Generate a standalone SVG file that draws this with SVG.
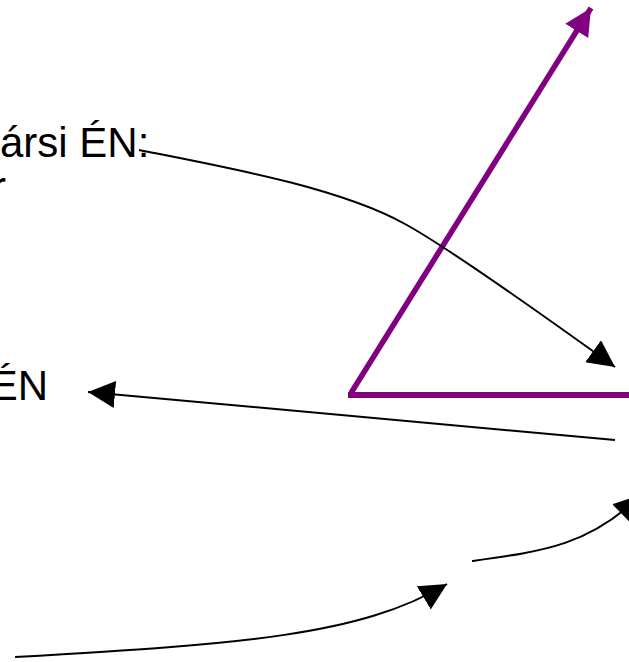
<svg xmlns="http://www.w3.org/2000/svg" width="629" height="662" viewBox="0 0 629 662">
  <style>
    .lbl { font-family: "Liberation Sans", Arial, sans-serif; font-size: 42px; fill: #000; }
    .conn { fill: none; stroke: #000; stroke-width: 2; }
    .purple { fill: none; stroke: #800080; stroke-width: 5.5; }
  </style>
  <defs>
    <marker id="ah" markerUnits="userSpaceOnUse" markerWidth="30" markerHeight="30" refX="27" refY="13.5" orient="auto" viewBox="0 0 30 30">
      <path d="M0,0 L27,13.5 L0,27 z" fill="#000"/>
    </marker>
    <marker id="ahp" markerUnits="userSpaceOnUse" markerWidth="30" markerHeight="30" refX="27" refY="13.5" orient="auto" viewBox="0 0 30 30">
      <path d="M0,0 L27,13.5 L0,27 z" fill="#800080"/>
    </marker>
  </defs>
  <rect width="629" height="662" fill="#fff"/>
  <g id="label-top">
    <text class="lbl" x="0" y="157">ársi ÉN:</text>
    <text class="lbl" x="-8" y="201">r</text>
  </g>
  <g id="label-mid">
    <text class="lbl" x="48" y="400" text-anchor="end">ÉN</text>
  </g>
  <g id="angle">
    <line class="purple" x1="351" y1="393" x2="591" y2="8" marker-end="url(#ahp)"/>
    <line class="purple" x1="348" y1="395" x2="629" y2="395" style="stroke-width:6"/>
  </g>
  <g id="connectors">
    <path class="conn" d="M139,150 C230,168 340,188 405,224 C440,243 540,313 615,367" marker-end="url(#ah)"/>
    <path class="conn" d="M615,440 L88,392" marker-end="url(#ah)"/>
    <path class="conn" d="M472,561 C545,551 590,545 641,495" marker-end="url(#ah)"/>
    <path class="conn" d="M15,657 C240,644 360,636 447,584" marker-end="url(#ah)"/>
  </g>
</svg>
